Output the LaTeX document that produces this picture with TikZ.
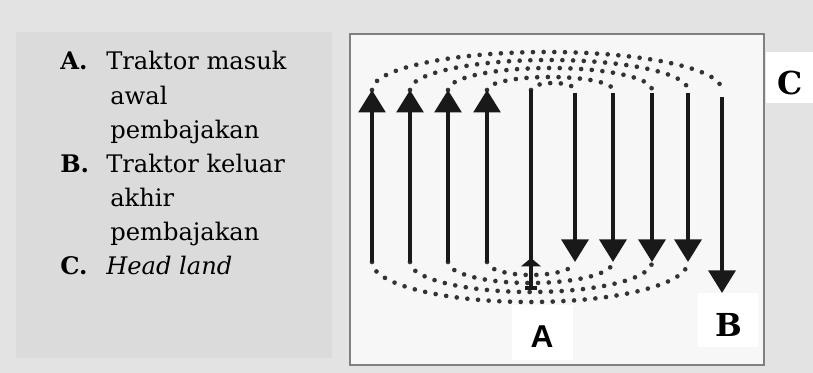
\documentclass[tikz,border=0pt]{standalone}
\usepackage{fontspec}
\setmainfont{DejaVu Serif}
\newfontfamily\tagsans{Liberation Sans}
\usetikzlibrary{arrows.meta}

\tikzset{
  headland/.style={draw=black!80, line width=3.3pt, line cap=round, dash pattern=on 0pt off 7.6pt},
  furrow/.style={draw=black!90, line width=2.8pt},
  tip/.style={-{Triangle[width=19pt,length=16pt]}},
  tagtext/.style={anchor=base, inner sep=0pt, font=\fontsize{22.5}{24}\selectfont\bfseries},
}

\begin{document}
\begin{tikzpicture}[x=0.025cm, y=0.025cm]
\useasboundingbox (0,0) rectangle (813,373);
% background and legend panel
\fill[gray!22] (0,0) rectangle (813,373);
\fill[gray!28] (16,15) rectangle (332,341);
\node[anchor=base west, inner sep=0pt, font=\fontsize{17.2}{24.2}\selectfont] (legend) at (60,303) {%
  \begin{tabular}[t]{@{}p{32.7pt}@{}l@{}}
  \textbf{A.} & Traktor masuk\\
   & \,awal\\
   & \,pembajakan\\
  \textbf{B.} & Traktor keluar\\
   & \,akhir\\
   & \,pembajakan\\
  \textbf{C.} & \textit{Head land}
  \end{tabular}};

% the field
\fill[gray!6] (350,8) rectangle (764,339);
\draw[black!50, line width=2pt] (350,8) rectangle (764,339);

% head land turns
\foreach \x/\rx/\ry in {372/175/38, 410/139/30, 448/102/22, 487/63/13, 531/22/7}
  \draw[headland] (\x,283) arc[start angle=180, end angle=0, x radius=\rx, y radius=\ry];
\foreach \x/\rx/\ry in {372/158/40, 410/121/30, 448/82.5/21, 487/44/13}
  \draw[headland] (\x,111) arc[start angle=180, end angle=360, x radius=\rx, y radius=\ry];

% plowing runs
\foreach \x in {372,410,448,487}
  \draw[furrow, tip] (\x,111) -- (\x,283);
\foreach \x in {575,613,652,688}
  \draw[furrow, tip] (\x,280) -- (\x,111);
\draw[furrow, tip] (722,276) -- (722,80);
\draw[furrow, {Bar[width=9pt]}-] (531,83) -- (531,283);
\draw[furrow, -{Triangle[width=14pt,length=6pt]}] (531,100) -- (531,115);

% labels
\fill[white] (512,13) rectangle (573,68);
\node[tagtext, font=\fontsize{22.5}{24}\selectfont\tagsans\bfseries] (labA) at (542,25) {A};
\fill[white] (698,26) rectangle (758,80);
\node[tagtext] (labB) at (729,36) {B};
\fill[white] (766,270) rectangle (813,321);
\node[tagtext] (labC) at (790,278) {C};
\end{tikzpicture}
\end{document}
